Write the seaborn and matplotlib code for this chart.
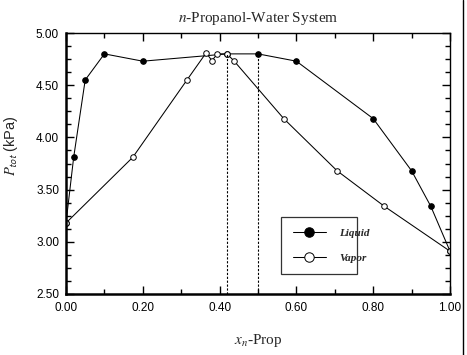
import matplotlib
matplotlib.use("Agg")
import matplotlib.pyplot as plt
import seaborn as sns
import pandas as pd
from matplotlib.ticker import MultipleLocator
from matplotlib.lines import Line2D

# Data
liquid_x = [0.00, 0.02, 0.05, 0.10, 0.20, 0.42, 0.50, 0.60, 0.80, 0.90, 0.95, 1.00]
liquid_p = [3.18, 3.81, 4.55, 4.80, 4.73, 4.80, 4.80, 4.73, 4.18, 3.68, 3.34, 2.91]

vapor_x = [0.00, 0.174, 0.315, 0.365, 0.380, 0.394, 0.419, 0.437, 0.567, 0.706, 0.829, 1.00]
vapor_p = [3.18, 3.81, 4.55, 4.81, 4.735, 4.80, 4.80, 4.735, 4.18, 3.68, 3.34, 2.91]

azeo_lines_x = [0.42, 0.50]
azeo_lines_top = [4.80, 4.80]

x_ticks = [0.00, 0.20, 0.40, 0.60, 0.80, 1.00]
y_ticks = [2.50, 3.00, 3.50, 4.00, 4.50, 5.00]

sns.set_theme(style="white")
plt.rcParams["font.family"] = ["Liberation Sans", "DejaVu Sans"]
plt.rcParams["mathtext.fontset"] = "stix"

fig = plt.figure(figsize=(4.67, 3.55), dpi=100)
ax = fig.add_axes([66/467, 1 - 294/355, (450-66)/467, (294-33)/355])

liq = pd.DataFrame({"x": liquid_x, "p": liquid_p})
vap = pd.DataFrame({"x": vapor_x, "p": vapor_p})

sns.lineplot(data=liq, x="x", y="p", ax=ax, color="black", linewidth=0.75,
             marker="o", markersize=4, markerfacecolor="black",
             markeredgecolor="black", sort=False, label="Liquid")
sns.lineplot(data=vap, x="x", y="p", ax=ax, color="black", linewidth=0.75,
             marker="o", markersize=4, markerfacecolor="white",
             markeredgecolor="black", markeredgewidth=0.7, sort=False, label="Vapor")

ax.vlines(azeo_lines_x, 2.5, azeo_lines_top, colors="black",
          linestyles=(0, (2, 1.5)), linewidth=0.8)

ax.set_xlim(0, 1)
ax.set_ylim(2.5, 5.0)
ax.set_xticks(x_ticks)
ax.set_yticks(y_ticks)
ax.set_xticklabels([f"{v:.2f}" for v in x_ticks])
ax.set_yticklabels([f"{v:.2f}" for v in y_ticks])
ax.xaxis.set_minor_locator(MultipleLocator(0.1))
ax.yaxis.set_minor_locator(MultipleLocator(0.125))
ax.tick_params(which="both", direction="in", top=True, right=True,
               bottom=True, left=True, colors="black", labelsize=8.5)
ax.tick_params(axis="x", which="both", pad=6)
ax.tick_params(axis="y", which="both", pad=5)
ax.tick_params(which="major", length=6, width=1)
ax.tick_params(which="minor", length=3.5, width=1)

for side, lw in [("left", 1.8), ("bottom", 1.8), ("top", 1.0), ("right", 1.0)]:
    ax.spines[side].set_visible(True)
    ax.spines[side].set_color("black")
    ax.spines[side].set_linewidth(lw)

ax.set_title(r"$n$-Propanol-Water System", fontsize=11,
             family=["Liberation Serif", "DejaVu Serif"], pad=8)
ax.set_xlabel(r"$x_{n}$-Prop", fontsize=11,
              family=["Liberation Serif", "DejaVu Serif"], labelpad=13)
ax.set_ylabel(r"$P_{\mathsf{tot}}$ (kPa)", fontsize=10.5)
ax.yaxis.set_label_coords(-0.12, 0.57)

leg = ax.legend(loc="lower left", bbox_to_anchor=(0.561, 0.078, 0.198, 0.212),
                mode="expand", borderaxespad=0, frameon=True, fancybox=False,
                edgecolor="black", handlelength=3.0, handletextpad=1.2,
                borderpad=1.0, labelspacing=1.3, markerscale=1.7,
                prop={"family": ["Liberation Serif", "DejaVu Serif"],
                      "style": "italic", "weight": "bold", "size": 8})
leg.get_frame().set_linewidth(0.9)
leg.get_frame().set_facecolor("white")

fig.add_artist(Line2D([463/467, 463/467], [0, 1], color="black", linewidth=1))

fig.savefig("out.png", dpi=100, facecolor="white")
